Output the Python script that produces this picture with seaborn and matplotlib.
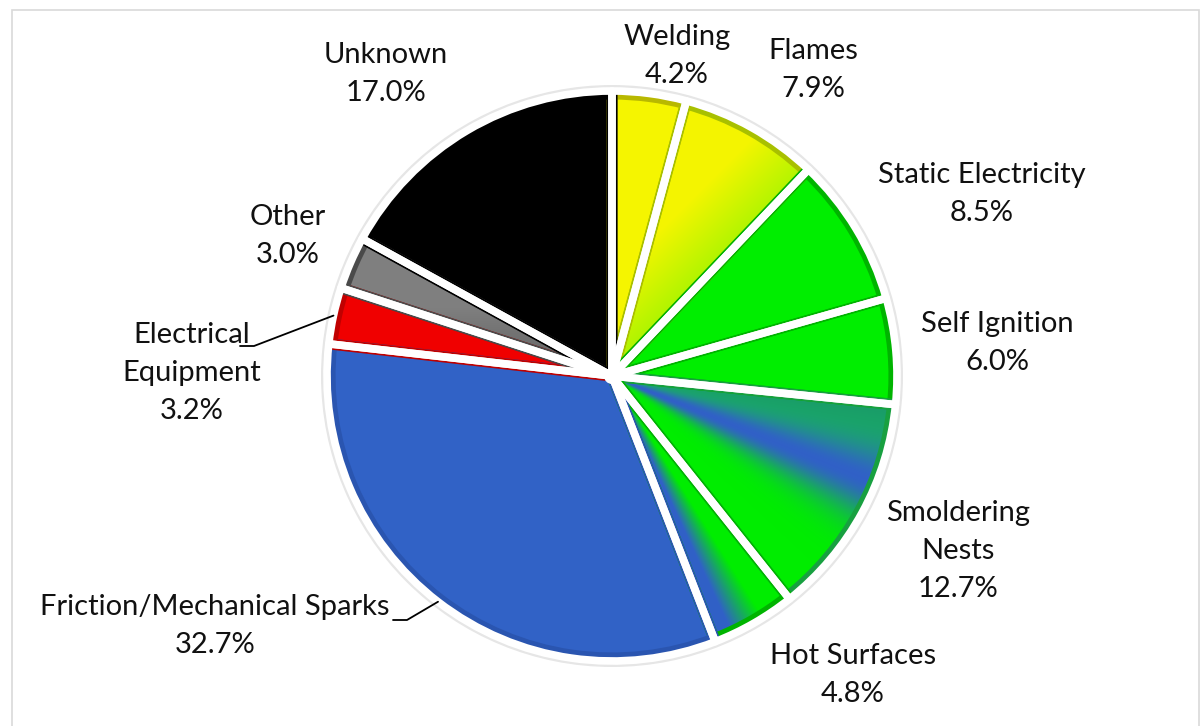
import numpy as np
import seaborn as sns
import matplotlib.pyplot as plt
from matplotlib.patches import Circle, Rectangle

sns.set_theme(style="white")
plt.rcParams['font.family'] = ['Lato', 'DejaVu Sans']

causes = ['Welding', 'Flames', 'Static Electricity', 'Self Ignition', 'Smoldering Nests',
          'Hot Surfaces', 'Friction/Mechanical Sparks', 'Electrical Equipment', 'Other', 'Unknown']
shares = [4.2, 7.9, 8.5, 6.0, 12.7, 4.8, 32.7, 3.2, 3.0, 17.0]
fills = ['#F5F500', '#C8F200', '#00EE00', '#00EE00', '#10D040',
         '#00EE00', '#3162C6', '#F00000', '#5E5E5E', '#000000']
rims = ['#B8B800', '#A8C000', '#00B400', '#00B400', '#18A040',
        '#00B400', '#2A55B0', '#C00000', '#4A4A4A', '#000000']
label_text = ['Welding\n4.2%', 'Flames\n7.9%', 'Static Electricity\n8.5%', 'Self Ignition\n6.0%',
              'Smoldering\nNests\n12.7%', 'Hot Surfaces\n4.8%', 'Friction/Mechanical Sparks\n32.7%',
              'Electrical\nEquipment\n3.2%', 'Other\n3.0%', 'Unknown\n17.0%']
# label centres in pixels (x, y from top)
label_xy = [(677, 56), (813, 70), (982, 194), (997, 343), (958, 551), (853, 675),
            (215, 626), (192, 373), (288, 236), (386, 74)]

W, H = 1202, 726
cx, cy, R = 612, H - 376, 285

fig = plt.figure(figsize=(W / 100, H / 100), dpi=100)
ax = fig.add_axes([0, 0, 1, 1])

fig.patches.append(Rectangle((12 / W, -0.01), (1199 - 12) / W, (H - 10) / H + 0.01,
                             transform=fig.transFigure, fill=False, edgecolor='#D9D9D9', linewidth=1.2))

ax.add_patch(Circle((cx, cy), R + 6, facecolor='#E6E6E6', edgecolor='none', zorder=0))

wedges, _ = ax.pie(shares, colors=fills, startangle=90, counterclock=False,
                   center=(cx, cy), radius=R - 1, wedgeprops=dict(linewidth=0))
for w in wedges:
    w.set_zorder(1)

# gradient fills, clipped to their wedges
yy, xx = np.mgrid[0:H, 0:W]
ang = np.degrees(np.arctan2((H - yy) - cy, xx - cx))
blue = np.array([0.19, 0.38, 0.78])
green = np.array([0.0, 0.93, 0.0])
yellow = np.array([0.96, 0.96, 0.0])
teal = np.array([0.10, 0.62, 0.40])

def blend(a, b, t):
    t = np.clip(t, 0, 1)[..., None]
    return a * (1 - t) + b * t

# Flames: yellow -> green toward lower right
proj = ((xx - cx) - (H - yy - cy)) / np.sqrt(2)
img_fl = blend(yellow, np.array([0.36, 0.96, 0.0]), (proj + 70) / 140)
# Smoldering nests: teal at top, blue band, green below
band = np.exp(-((ang + 22) / 8.0) ** 2)
top = blend(np.array([0.05, 0.85, 0.25]), teal, (ang + 22) / 15)
base = np.where((ang > -22)[..., None], top, green[None, None, :] * np.ones_like(top))
img_sm = blend(base, blue, band)
# Hot surfaces: blue along the friction edge, green elsewhere
img_hs = blend(blue, green, (ang + 65) / 7)
# Other: lighter grey on top
img_ot = blend(np.array([0.30, 0.30, 0.30]), np.array([0.50, 0.50, 0.50]), ((H - yy) - cy + 40) / 110)

for idx, img in [(1, img_fl), (4, img_sm), (5, img_hs), (8, img_ot)]:
    im = ax.imshow(img, extent=(0, W, 0, H), origin='upper', zorder=2, interpolation='bilinear')
    im.set_clip_path(wedges[idx])

# darker bevel edge and white separators
bevel, _ = ax.pie(shares, startangle=90, counterclock=False, center=(cx, cy), radius=R - 3,
                  wedgeprops=dict(fill=False, linewidth=8, joinstyle='round'))
for w, c in zip(bevel, rims):
    w.set_edgecolor(c)
    w.set_zorder(3)
sep, _ = ax.pie(shares, startangle=90, counterclock=False, center=(cx, cy), radius=R,
                wedgeprops=dict(fill=False, linewidth=5.5, edgecolor='white', joinstyle='round'))
for w in sep:
    w.set_zorder(4)
ax.add_patch(Circle((cx, cy), 8, facecolor='white', edgecolor='none', zorder=4.5))

for txt, (lx, ly) in zip(label_text, label_xy):
    ax.text(lx, H - ly, txt, ha='center', va='center', fontsize=21,
            linespacing=1.55, color='#111111', zorder=5)

# leader lines for the two left labels
cum = np.cumsum([0] + shares)
for idx, (tx, ty) in [(7, (240, 346)), (6, (393, 620))]:
    mid = 90 - 3.6 * (cum[idx] + cum[idx + 1]) / 2
    ex = cx + R * np.cos(np.radians(mid))
    ey = cy + R * np.sin(np.radians(mid))
    ax.plot([tx, tx + 14, ex], [H - ty, H - ty, ey], color='black', linewidth=1.3, zorder=5)

ax.set_xlim(0, W)
ax.set_ylim(0, H)
ax.set_aspect('auto')
ax.axis('off')

fig.savefig('out.png', dpi=100)
